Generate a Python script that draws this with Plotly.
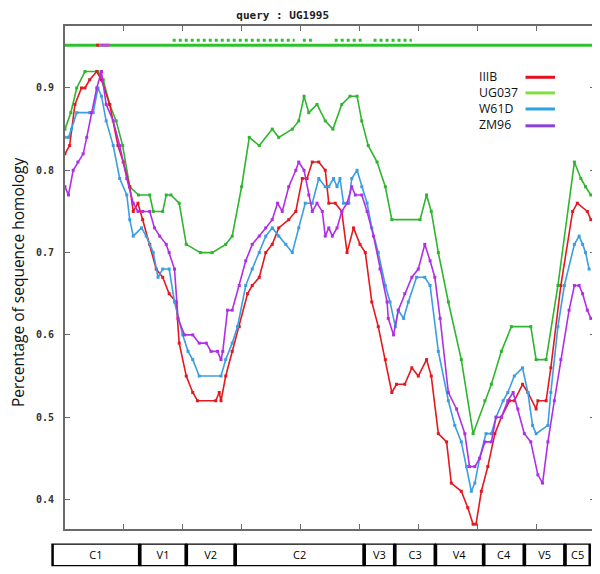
import plotly.graph_objects as go

# sequence homology along the alignment (query : UG1995)
iiib_x = [0, 8, 17, 28, 34, 42, 54, 62, 76, 90, 99, 110, 116, 124, 132, 144, 155, 166, 177, 189,
          194, 206, 217, 225, 256, 262, 265, 273, 284, 296, 310, 318, 330, 341, 352, 363, 380, 392,
          403, 411, 420, 431, 442, 448, 459, 470, 479, 490, 501, 510, 521, 532, 544, 555, 563, 577,
          589, 600, 614, 622, 634, 648, 656, 673, 684, 693, 698, 707, 718, 730, 741, 755, 763, 777,
          786, 800, 803, 817, 825, 842, 862, 870, 887, 893]
iiib_y = [0.82, 0.83, 0.88, 0.90, 0.90, 0.91, 0.92, 0.91, 0.88, 0.83, 0.81, 0.78, 0.75, 0.76, 0.74,
          0.71, 0.68, 0.67, 0.65, 0.64, 0.59, 0.55, 0.53, 0.52, 0.52, 0.53, 0.52, 0.55, 0.58, 0.61,
          0.65, 0.66, 0.67, 0.70, 0.71, 0.73, 0.74, 0.75, 0.79, 0.79, 0.81, 0.81, 0.80, 0.76, 0.76,
          0.75, 0.70, 0.73, 0.71, 0.70, 0.64, 0.61, 0.57, 0.53, 0.54, 0.54, 0.56, 0.55, 0.57, 0.55,
          0.48, 0.47, 0.42, 0.41, 0.39, 0.37, 0.37, 0.41, 0.44, 0.48, 0.50, 0.52, 0.52, 0.54, 0.53,
          0.51, 0.52, 0.52, 0.56, 0.66, 0.75, 0.76, 0.75, 0.74]

ug037_x = [0, 10, 20, 34, 56, 65, 76, 87, 98, 110, 125, 144, 150, 166, 172, 180, 194, 206, 230,
           250, 273, 284, 300, 313, 330, 352, 363, 386, 397, 406, 414, 428, 442, 455, 470, 484, 496,
           504, 515, 530, 544, 555, 603, 614, 622, 634, 651, 673, 693, 713, 724, 741, 758, 791, 800,
           817, 837, 865, 876, 884, 893]
ug037_y = [0.85, 0.87, 0.90, 0.92, 0.92, 0.91, 0.88, 0.86, 0.83, 0.78, 0.77, 0.77, 0.75, 0.75, 0.77,
           0.77, 0.76, 0.71, 0.70, 0.70, 0.71, 0.72, 0.78, 0.84, 0.83, 0.85, 0.84, 0.85, 0.86, 0.89,
           0.87, 0.88, 0.86, 0.85, 0.88, 0.89, 0.89, 0.86, 0.83, 0.81, 0.78, 0.74, 0.74, 0.77, 0.75,
           0.70, 0.64, 0.57, 0.48, 0.52, 0.54, 0.58, 0.61, 0.61, 0.57, 0.57, 0.66, 0.81, 0.79, 0.78,
           0.77]

w61d_x = [0, 6, 11, 20, 42, 48, 56, 62, 70, 82, 93, 105, 110, 116, 130, 138, 150, 158, 166, 177,
          186, 200, 209, 217, 228, 265, 273, 284, 293, 307, 318, 330, 341, 352, 363, 375, 386, 397,
          408, 420, 431, 442, 448, 456, 462, 467, 473, 482, 487, 496, 504, 513, 521, 532, 544, 552,
          561, 566, 575, 583, 597, 611, 620, 634, 651, 662, 673, 682, 690, 696, 704, 715, 724, 732,
          744, 752, 763, 777, 786, 794, 800, 820, 825, 837, 848, 865, 873, 879, 884, 890]
w61d_y = [0.84, 0.84, 0.85, 0.87, 0.87, 0.87, 0.90, 0.89, 0.86, 0.83, 0.79, 0.77, 0.74, 0.72, 0.73,
          0.72, 0.70, 0.67, 0.68, 0.68, 0.64, 0.60, 0.58, 0.57, 0.55, 0.55, 0.57, 0.59, 0.61, 0.66,
          0.68, 0.70, 0.72, 0.73, 0.72, 0.71, 0.70, 0.73, 0.76, 0.76, 0.79, 0.78, 0.78, 0.79, 0.78,
          0.79, 0.76, 0.76, 0.79, 0.80, 0.78, 0.76, 0.73, 0.70, 0.66, 0.64, 0.61, 0.63, 0.62, 0.64,
          0.67, 0.67, 0.66, 0.58, 0.52, 0.49, 0.47, 0.44, 0.41, 0.42, 0.45, 0.48, 0.48, 0.50, 0.52,
          0.53, 0.55, 0.56, 0.53, 0.49, 0.48, 0.49, 0.53, 0.61, 0.66, 0.71, 0.72, 0.71, 0.70, 0.68]

zm96_x = [0, 6, 14, 22, 31, 37, 45, 54, 62, 70, 82, 93, 105, 116, 124, 132, 144, 152, 161, 172,
          177, 186, 192, 203, 217, 228, 240, 248, 259, 265, 268, 276, 284, 296, 307, 318, 330, 341,
          352, 361, 369, 380, 392, 397, 406, 414, 420, 428, 437, 442, 448, 454, 462, 470, 479, 487,
          493, 504, 513, 524, 535, 547, 549, 558, 566, 577, 589, 600, 611, 620, 628, 637, 651, 665,
          679, 687, 696, 704, 713, 724, 732, 741, 752, 761, 769, 780, 791, 803, 811, 820, 831, 842,
          856, 865, 873, 879, 887, 893]
zm96_y = [0.78, 0.77, 0.80, 0.81, 0.82, 0.84, 0.87, 0.90, 0.92, 0.88, 0.86, 0.83, 0.79, 0.76, 0.75,
          0.75, 0.75, 0.73, 0.72, 0.71, 0.70, 0.68, 0.62, 0.60, 0.60, 0.59, 0.59, 0.58, 0.58, 0.57,
          0.58, 0.63, 0.63, 0.66, 0.69, 0.71, 0.72, 0.73, 0.74, 0.76, 0.75, 0.78, 0.80, 0.81, 0.80,
          0.77, 0.75, 0.76, 0.75, 0.72, 0.73, 0.72, 0.73, 0.75, 0.76, 0.78, 0.77, 0.77, 0.75, 0.72,
          0.68, 0.64, 0.62, 0.60, 0.63, 0.65, 0.67, 0.68, 0.71, 0.69, 0.67, 0.62, 0.53, 0.51, 0.48,
          0.44, 0.44, 0.45, 0.47, 0.47, 0.50, 0.50, 0.52, 0.53, 0.51, 0.48, 0.47, 0.43, 0.42, 0.47,
          0.52, 0.57, 0.63, 0.66, 0.66, 0.65, 0.63, 0.62]

series_names = ["UG037", "IIIB", "W61D", "ZM96"]
series_x = [ug037_x, iiib_x, w61d_x, zm96_x]
series_y = [ug037_y, iiib_y, w61d_y, zm96_y]
line_colors = ["#2fb52f", "#e3191f", "#3a9ee0", "#b02fe6"]

# top track: full green bar, red/magenta bits and dotted green stretches
track_y = 0.952
track_x = [0, 900]
track_red_x = [53, 58]
track_mag_x = [60, 76]
dotted_y = 0.958
dotted_spans = [(183, 390), (404, 420), (458, 504), (524, 589)]

# env regions along the bottom
region_names = ["C1", "V1", "V2", "C2", "V3", "C3", "V4", "C4", "V5", "C5"]
region_start = [-22, 127, 206, 289, 508, 560, 629, 711, 780, 849]
region_end = [127, 206, 289, 508, 560, 629, 711, 780, 849, 892]

legend_order = ["IIIB", "UG037", "W61D", "ZM96"]
legend_colors = ["#e0101e", "#7fe040", "#2aa4e2", "#8b3fdc"]

fig = go.Figure()

for name, xs, ys, c in zip(series_names, series_x, series_y, line_colors):
    fig.add_trace(go.Scatter(
        x=xs, y=ys, mode="lines+markers", name=name, showlegend=False,
        line=dict(color=c, width=1.6),
        marker=dict(symbol="square", size=3, color=c),
    ))

fig.add_trace(go.Scatter(x=track_x, y=[track_y] * 2, mode="lines", showlegend=False,
                         line=dict(color="#2fc22f", width=3)))
fig.add_trace(go.Scatter(x=track_red_x, y=[track_y] * 2, mode="lines", showlegend=False,
                         line=dict(color="#e3191f", width=3)))
fig.add_trace(go.Scatter(x=track_mag_x, y=[track_y] * 2, mode="lines", showlegend=False,
                         line=dict(color="#d040e0", width=3)))
dx, dy = [], []
for a, b in dotted_spans:
    dx += [a, b, None]
    dy += [dotted_y, dotted_y, None]
fig.add_trace(go.Scatter(x=dx, y=dy, mode="lines", showlegend=False,
                         line=dict(color="#2fc22f", width=3, dash="dot")))

# region boxes
fig.add_trace(go.Bar(
    y=[0] * len(region_names),
    base=[s + 1 for s in region_start],
    x=[e - s - 2 for s, e in zip(region_start, region_end)],
    orientation="h", width=1, text=region_names,
    textposition="inside", insidetextanchor="middle", textangle=0,
    textfont=dict(family="Open Sans", size=11, color="black"),
    marker=dict(color="white", line=dict(color="black", width=2.5)),
    xaxis="x2", yaxis="y2", showlegend=False,
))

# legend (text left, line right)
leg_y = [0.913, 0.894, 0.8745, 0.854]
fig.add_annotation(x=699, y=(leg_y[1] + leg_y[2]) / 2, xref="x", yref="y",
                   text="<br>".join(legend_order), showarrow=False, align="left",
                   xanchor="left", yanchor="middle",
                   font=dict(family="Open Sans", size=12.3, color="#111"))
for c, yy in zip(legend_colors, leg_y):
    fig.add_shape(type="line", x0=782, x1=832, y0=yy, y1=yy, xref="x", yref="y",
                  line=dict(color=c, width=3))

fig.add_annotation(x=-0.0546, y=0.526, xref="paper", yref="paper", xanchor="center",
                   yanchor="middle", text="Percentage of sequence homology", textangle=-90,
                   showarrow=False, font=dict(family="Open Sans", size=15.5, color="#111"))

frame = dict(showline=True, mirror="ticks", linecolor="#6a6a6a", linewidth=2,
             ticks="inside", ticklen=5, tickcolor="#6a6a6a", showgrid=False, zeroline=False)

# page body adds an 8px offset, so the figure is 8px smaller and shifted
fig.update_layout(
    width=592, height=566,
    margin=dict(l=40, r=3, t=18, b=6),
    paper_bgcolor="white", plot_bgcolor="white",
    title=dict(text="query : UG1995", x=0.464, xanchor="center", y=0.995, yanchor="top",
               font=dict(family="DejaVu Sans Mono", size=11, color="#222", weight="bold")),
    xaxis=dict(domain=[17 / 549, 1], range=[0, 900], tickvals=[100, 200, 300, 400, 500, 600, 700, 800],
               showticklabels=False, **frame),
    yaxis=dict(domain=[0.072, 1], range=[0.3642, 0.9753], tickvals=[0.4, 0.5, 0.6, 0.7, 0.8, 0.9],
               tickformat=".1f", ticklabelstandoff=7,
               tickfont=dict(family="DejaVu Sans Mono", size=10, color="#333", weight="bold"),
               **frame),
    xaxis2=dict(domain=[0, 1], range=[-17 / 0.5911, 900], visible=False, anchor="y2"),
    yaxis2=dict(domain=[0.003, 0.045], range=[-0.5, 0.5], visible=False, anchor="x2"),
    uniformtext=dict(minsize=11, mode="show"),
)

fig.write_html("out.html")
